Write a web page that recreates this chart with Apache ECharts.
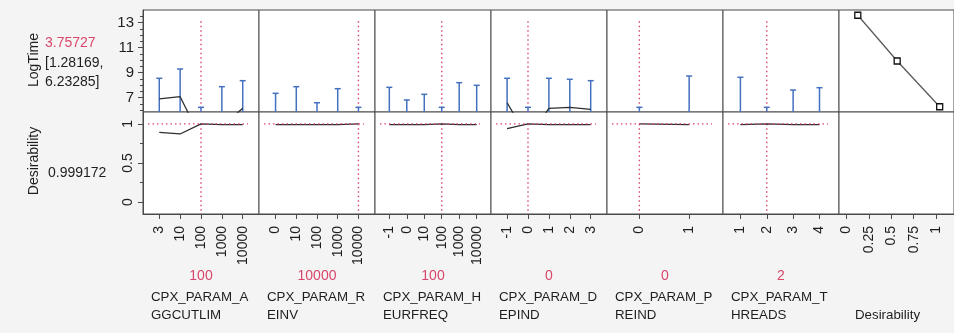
<!DOCTYPE html>
<html>
<head>
<meta charset="utf-8">
<script src="https://cdn.jsdelivr.net/npm/echarts@6/dist/echarts.min.js"></script>
<style>
  html, body { margin: 0; padding: 0; background: #f4f4f4; }
  #chart { width: 954px; height: 333px; }
</style>
</head>
<body>
<div id="chart"></div>
<script>
// ---- Prediction profiler data: LogTime and desirability per factor level ----
const aggLevels = ['3', '10', '100', '1000', '10000'];
const aggPred   = [6.90, 7.08, 3.75727, 4.75, 6.15];
const aggUpper  = [8.55, 9.29, 6.23285, 7.88, 8.36];
const aggLower  = [5.25, 4.87, 1.28169, 1.62, 3.94];
const aggDesir  = [0.89, 0.87, 0.999172, 0.99, 0.99];

const reinvLevels = ['0', '10', '100', '1000', '10000'];
const reinvPred   = [4.90, 5.40, 4.10, 5.25, 3.75727];
const reinvUpper  = [7.35, 7.88, 6.60, 7.72, 6.23285];
const reinvLower  = [2.45, 2.92, 1.60, 2.78, 1.28169];
const reinvDesir  = [0.99, 0.99, 0.99, 0.99, 0.999172];

const heurLevels = ['-1', '0', '10', '100', '1000', '10000'];
const heurPred   = [5.30, 4.30, 4.80, 3.75727, 5.70, 5.50];
const heurUpper  = [7.83, 6.82, 7.27, 6.23285, 8.20, 7.99];
const heurLower  = [2.77, 1.78, 2.33, 1.28169, 3.20, 3.01];
const heurDesir  = [0.99, 0.99, 0.99, 0.999172, 0.99, 0.99];

const depLevels = ['-1', '0', '1', '2', '3'];
const depPred   = [6.60, 3.75727, 6.15, 6.23, 6.07];
const depUpper  = [8.55, 6.23285, 8.55, 8.47, 8.36];
const depLower  = [4.65, 1.28169, 3.75, 3.99, 3.78];
const depDesir  = [0.937, 0.999172, 0.99, 0.99, 0.99];

const preLevels = ['0', '1'];
const prePred   = [3.75727, 5.60];
const preUpper  = [6.23285, 8.73];
const preLower  = [1.28169, 2.47];
const preDesir  = [0.999172, 0.99];

const thrLevels = ['1', '2', '3', '4'];
const thrPred   = [5.40, 3.75727, 5.10, 5.30];
const thrUpper  = [8.63, 6.23285, 7.61, 7.80];
const thrLower  = [2.17, 1.28169, 2.59, 2.80];
const thrDesir  = [0.99, 0.999172, 0.99, 0.99];

// Desirability function for LogTime (desirability, LogTime)
const desFnX = [0.125, 0.565, 1.04];
const desFnY = [13.58, 9.93, 6.28];
const desTicks = [0, 0.25, 0.5, 0.75, 1];

// Current factor settings
const currentIndex  = [2, 4, 3, 1, 0, 1];
const currentLabels = ['100', '10000', '100', '0', '0', '2'];
const nameLine1 = ['CPX_PARAM_A', 'CPX_PARAM_R', 'CPX_PARAM_H', 'CPX_PARAM_D', 'CPX_PARAM_P', 'CPX_PARAM_T'];
const nameLine2 = ['GGCUTLIM', 'EINV', 'EURFREQ', 'EPIND', 'REIND', 'HREADS'];

const predicted = 3.75727;
const ciText1 = '[1.28169,';
const ciText2 = '6.23285]';
const desirValue = 0.999172;

// Y axis ticks
const logTicks = [7, 9, 11, 13];
const logMinor = [6, 6.5, 7.5, 8, 8.5, 9.5, 10, 10.5, 11.5, 12, 12.5, 13.5];
const desYTicks = [0, 0.5, 1];
const desYMinor = [0.25, 0.75];

// ---- Layout & style ----
const FONT = '"Liberation Sans", Arial, sans-serif';
const TEXT = '#1e1e1e';
const BORDER = '#4a4a4a';
const BLUE = '#4470c0';
const RED = '#d9466a';
const LINE = '#2e2e2e';

const COLS = [143, 259, 375, 491, 607, 723, 839];
const COL_W = [116, 116, 116, 116, 116, 116, 115];
const ROW_TOP = [10, 112];
const ROW_H = 102;
const LOG_RANGE = [5.86, 14.0];
const DES_RANGE = [-0.15, 1.15];
const X_RANGES = [[-0.78, 4.78], [-0.8, 4.8], [-0.82, 5.82], [-0.77, 4.78], [-0.65, 1.68], [-0.66, 3.74], [-0.085, 1.2]];

const factorLevels = [aggLevels, reinvLevels, heurLevels, depLevels, preLevels, thrLevels];
const factorPred   = [aggPred, reinvPred, heurPred, depPred, prePred, thrPred];
const factorUpper  = [aggUpper, reinvUpper, heurUpper, depUpper, preUpper, thrUpper];
const factorLower  = [aggLower, reinvLower, heurLower, depLower, preLower, thrLower];
const factorDesir  = [aggDesir, reinvDesir, heurDesir, depDesir, preDesir, thrDesir];

const grid = [], xAxis = [], yAxis = [], series = [], graphic = [];

function renderCI(params, api) {
  const x = api.value(0);
  const lo = api.coord([x, api.value(1)]);
  const hi = api.coord([x, api.value(2)]);
  const style = { stroke: BLUE, lineWidth: 1.5 };
  return {
    type: 'group',
    children: [
      { type: 'line', shape: { x1: lo[0], y1: lo[1], x2: hi[0], y2: hi[1] }, style },
      { type: 'line', shape: { x1: hi[0] - 3, y1: hi[1], x2: hi[0] + 3, y2: hi[1] }, style }
    ]
  };
}

function labelStyle(extra) {
  return Object.assign({ fontSize: 14, color: TEXT, fontFamily: FONT }, extra);
}

for (let r = 0; r < 2; r++) {
  for (let c = 0; c < 7; c++) {
    const g = r * 7 + c;
    grid.push({
      left: COLS[c], top: ROW_TOP[r], width: COL_W[c], height: ROW_H,
      show: true, backgroundColor: '#ffffff', borderColor: BORDER, borderWidth: 1,
      containLabel: false, outerBoundsMode: 'none'
    });
    const rng = X_RANGES[c];
    const tickVals = c < 6 ? factorLevels[c].map((_, i) => i) : desTicks;
    const fmt = c < 6 ? (v => factorLevels[c][Math.round(v)]) : (v => String(v));
    xAxis.push({
      type: 'value', gridIndex: g, min: rng[0], max: rng[1],
      axisLine: { show: r === 1, onZero: false, lineStyle: { color: BORDER } },
      splitLine: { show: false },
      axisTick: r === 1
        ? { show: true, customValues: tickVals, length: 5, lineStyle: { color: BORDER } }
        : { show: false },
      axisLabel: r === 1
        ? labelStyle({ show: true, customValues: tickVals, rotate: 90, margin: 12, formatter: fmt })
        : { show: false }
    });
    const yr = r === 0 ? LOG_RANGE : DES_RANGE;
    if (c === 0) {
      yAxis.push({
        type: 'value', gridIndex: g, min: yr[0], max: yr[1], position: 'left',
        axisLine: { show: true, onZero: false, lineStyle: { color: BORDER } },
        splitLine: { show: false },
        axisTick: { show: true, customValues: r === 0 ? logTicks : desYTicks, length: 5, lineStyle: { color: BORDER } },
        axisLabel: labelStyle({
          show: true, customValues: r === 0 ? logTicks : desYTicks, margin: r === 0 ? 9 : 8,
          fontSize: r === 0 ? 15 : 14,
          rotate: r === 0 ? 0 : 90, formatter: v => String(v)
        })
      });
    } else {
      yAxis.push({ type: 'value', gridIndex: g, min: yr[0], max: yr[1], show: false });
    }
  }
}

// Minor tick axes for the two left-hand panels
[[0, LOG_RANGE, logMinor], [7, DES_RANGE, desYMinor]].forEach(([g, yr, vals]) => {
  yAxis.push({
    type: 'value', gridIndex: g, min: yr[0], max: yr[1], position: 'left',
    axisLine: { show: false, onZero: false }, splitLine: { show: false },
    axisTick: { show: true, customValues: vals, length: 3, lineStyle: { color: BORDER } },
    axisLabel: { show: false }
  });
});

const dotted = { color: RED, width: 1.4, type: [1.5, 3] };

for (let c = 0; c < 6; c++) {
  const gTop = c, gBot = 7 + c;
  const lv = factorLevels[c];
  const cur = currentIndex[c];
  const rng = X_RANGES[c];
  const span = rng[1] - rng[0];

  // Confidence intervals
  series.push({
    type: 'custom', xAxisIndex: gTop, yAxisIndex: gTop, clip: true,
    renderItem: renderCI,
    encode: { x: 0, y: [1, 2] },
    data: lv.map((_, i) => [i, factorLower[c][i], factorUpper[c][i]]),
    z: 3
  });
  // Prediction trace
  series.push({
    type: 'line', xAxisIndex: gTop, yAxisIndex: gTop, clip: true,
    data: lv.map((_, i) => [i, factorPred[c][i]]),
    symbol: 'none', lineStyle: { color: LINE, width: 1.3 }, z: 4
  });
  // Current setting marker line (top)
  series.push({
    type: 'line', xAxisIndex: gTop, yAxisIndex: gTop, clip: true,
    data: [[cur, 13.1], [cur, LOG_RANGE[0]]],
    symbol: 'none', lineStyle: dotted, z: 2
  });

  // Desirability trace
  series.push({
    type: 'line', xAxisIndex: gBot, yAxisIndex: gBot, clip: true,
    data: lv.map((_, i) => [i, factorDesir[c][i]]),
    symbol: 'none', lineStyle: { color: LINE, width: 1.3 }, z: 4
  });
  // Current desirability reference lines
  series.push({
    type: 'line', xAxisIndex: gBot, yAxisIndex: gBot, clip: true,
    data: [[rng[0] + span * 5 / 116, desirValue], [rng[1] - span * 11 / 116, desirValue]],
    symbol: 'none', lineStyle: dotted, z: 5
  });
  series.push({
    type: 'line', xAxisIndex: gBot, yAxisIndex: gBot, clip: true,
    data: [[cur, desirValue], [cur, DES_RANGE[0]]],
    symbol: 'none', lineStyle: dotted, z: 2
  });

  // Factor captions
  const cx = COLS[c] + COL_W[c] / 2;
  graphic.push({ type: 'text', x: cx, y: 276, style: { text: currentLabels[c], fill: RED, font: '14px ' + FONT, align: 'center', verticalAlign: 'middle' } });
  graphic.push({ type: 'text', x: COLS[c] + 8, y: 297, style: { text: nameLine1[c], fill: TEXT, font: '13.3px ' + FONT, align: 'left', verticalAlign: 'middle' } });
  graphic.push({ type: 'text', x: COLS[c] + 8, y: 315, style: { text: nameLine2[c], fill: TEXT, font: '13.3px ' + FONT, align: 'left', verticalAlign: 'middle' } });
}

// Desirability function panel
series.push({
  type: 'line', xAxisIndex: 6, yAxisIndex: 6, clip: true,
  data: desFnX.map((x, i) => [x, desFnY[i]]),
  symbol: 'rect', symbolSize: 6,
  itemStyle: { color: '#ffffff', borderColor: '#111', borderWidth: 1.3 },
  lineStyle: { color: '#5a5a5a', width: 1.3 }, z: 4
});
graphic.push({ type: 'text', x: 855, y: 315, style: { text: 'Desirability', fill: TEXT, font: '13.3px ' + FONT, align: 'left', verticalAlign: 'middle' } });

// Row titles
graphic.push({ type: 'text', x: 34, y: 60, rotation: Math.PI / 2, style: { text: 'LogTime', fill: TEXT, font: '14px ' + FONT, align: 'center', verticalAlign: 'middle' } });
graphic.push({ type: 'text', x: 45, y: 43, style: { text: String(predicted), fill: RED, font: '14px ' + FONT, align: 'left', verticalAlign: 'middle' } });
graphic.push({ type: 'text', x: 45, y: 63, style: { text: ciText1, fill: TEXT, font: '14px ' + FONT, align: 'left', verticalAlign: 'middle' } });
graphic.push({ type: 'text', x: 45, y: 82, style: { text: ciText2, fill: TEXT, font: '14px ' + FONT, align: 'left', verticalAlign: 'middle' } });
graphic.push({ type: 'text', x: 34, y: 161, rotation: Math.PI / 2, style: { text: 'Desirability', fill: TEXT, font: '14px ' + FONT, align: 'center', verticalAlign: 'middle' } });
graphic.push({ type: 'text', x: 48, y: 173, style: { text: String(desirValue), fill: TEXT, font: '14px ' + FONT, align: 'left', verticalAlign: 'middle' } });

const chart = echarts.init(document.getElementById('chart'), null, { renderer: 'canvas' });
chart.setOption({
  animation: false,
  backgroundColor: '#f4f4f4',
  textStyle: { fontFamily: FONT },
  grid, xAxis, yAxis, series, graphic
});
</script>
</body>
</html>
